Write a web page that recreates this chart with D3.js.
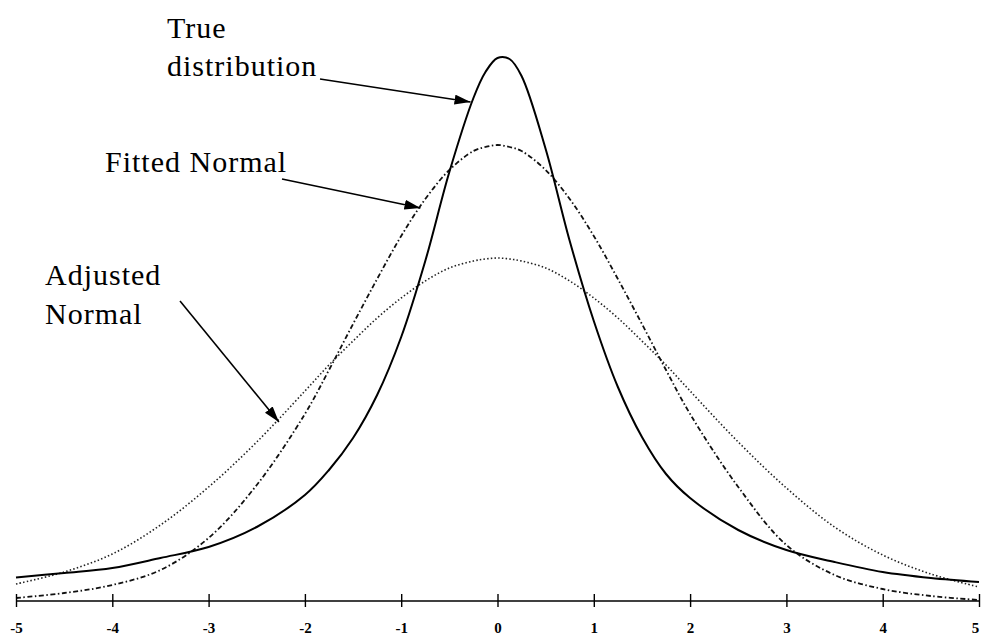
<!DOCTYPE html>
<html>
<head>
<meta charset="utf-8">
<script src="https://cdn.jsdelivr.net/npm/d3@7/dist/d3.min.js"></script>
<style>
  html, body { margin: 0; padding: 0; background: #fff; }
  svg { display: block; }
</style>
</head>
<body>
<svg id="chart" width="981" height="639"></svg>
<script>
// ---- Data (densities in arbitrary units) ----
const xGrid = [-5, -4.5, -4, -3.5, -3, -2.5, -2, -1.75, -1.5, -1.25, -1, -0.75, -0.5, -0.25, -0.125,
               0, 0.125, 0.25, 0.5, 0.75, 1, 1.25, 1.5, 1.75, 2, 2.5, 3, 3.5, 4, 4.5, 5];

const trueDist = [0.0235, 0.028, 0.033, 0.043, 0.054, 0.074, 0.106, 0.131, 0.163, 0.206, 0.264, 0.340, 0.429, 0.503, 0.529,
                  0.543, 0.542, 0.525, 0.452, 0.360, 0.280, 0.214, 0.164, 0.127, 0.103, 0.071, 0.051, 0.039, 0.029, 0.023, 0.019];

const fittedNormal = [0.003, 0.008, 0.016, 0.031, 0.063, 0.116, 0.187, 0.231, 0.277, 0.322, 0.365, 0.402, 0.431, 0.450, 0.454,
                      0.456, 0.454, 0.450, 0.431, 0.402, 0.365, 0.322, 0.277, 0.231, 0.187, 0.114, 0.056, 0.026, 0.012, 0.005, 0.001];

const adjustedNormal = [0.017, 0.029, 0.047, 0.076, 0.114, 0.159, 0.210, 0.236, 0.260, 0.283, 0.303, 0.320, 0.333, 0.340, 0.342,
                        0.343, 0.342, 0.340, 0.333, 0.320, 0.303, 0.283, 0.260, 0.236, 0.210, 0.159, 0.113, 0.074, 0.046, 0.027, 0.014];

const tickValues = [-5, -4, -3, -2, -1, 0, 1, 2, 3, 4, 5];
const tickLabels = ["-5", "-4", "-3", "-2", "-1", "0", "1", "2", "3", "4", "5"];

const annotationLines = [["True", "distribution"], ["Fitted Normal"], ["Adjusted", "Normal"]];
const annotationTargets = [[-0.28, 0.499], [-0.8, 0.393], [-2.27, 0.179]];

// ---- Layout ----
const svg = d3.select("#chart");
const x = d3.scaleLinear().domain([-5, 5]).range([16, 979]);
const y = d3.scaleLinear().domain([0, 0.56]).range([601, 41]);

const line = d3.line()
  .x((d, i) => x(xGrid[i]))
  .y(d => y(d))
  .curve(d3.curveCatmullRom.alpha(0.5));

// curves
svg.append("path").datum(adjustedNormal)
  .attr("d", line).attr("fill", "none")
  .attr("stroke", "#222").attr("stroke-width", 1.6)
  .attr("stroke-dasharray", "1.5,2.2");

svg.append("path").datum(fittedNormal)
  .attr("d", line).attr("fill", "none")
  .attr("stroke", "#111").attr("stroke-width", 1.8)
  .attr("stroke-dasharray", "5,2.5,1.5,2.5");

svg.append("path").datum(trueDist)
  .attr("d", line).attr("fill", "none")
  .attr("stroke", "#000").attr("stroke-width", 2);

// axis
const axisG = svg.append("g").attr("transform", `translate(0,${y(0)})`);
const axis = d3.axisBottom(x).tickValues(tickValues).tickSize(0).tickFormat((d, i) => tickLabels[i]);
axisG.call(axis);
axisG.select(".domain").attr("stroke", "#000").attr("stroke-width", 1.6).attr("d", `M${x(-5)},0H${x(5)}`);
axisG.selectAll(".tick line").remove();
axisG.selectAll(".tick").append("line")
  .attr("y1", -7).attr("y2", 6).attr("stroke", "#000").attr("stroke-width", 1.4);
axisG.selectAll(".tick text")
  .attr("y", 32).attr("dy", 0)
  .attr("dx", (d, i) => i === tickValues.length - 1 ? -4 : 0)
  .attr("font-family", "'Liberation Serif', 'Times New Roman', serif")
  .attr("font-weight", "bold")
  .attr("font-size", 15)
  .attr("fill", "#000");

// arrow marker
svg.append("defs").append("marker")
  .attr("id", "arrow").attr("viewBox", "0 0 16 10")
  .attr("refX", 16).attr("refY", 5)
  .attr("markerWidth", 16).attr("markerHeight", 10)
  .attr("markerUnits", "userSpaceOnUse")
  .attr("orient", "auto")
  .append("path").attr("d", "M0,0L16,5L0,10Z").attr("fill", "#000");

// annotations
const font = "'Liberation Serif', 'Times New Roman', serif";
const textPos = [
  { x: 167, ys: [38, 76], from: [320, 79] },
  { x: 105, ys: [172], from: [282, 179] },
  { x: 45, ys: [285, 324], from: [180, 301] }
];
annotationLines.forEach((lines, k) => {
  const p = textPos[k];
  lines.forEach((t, j) => {
    svg.append("text").attr("x", p.x).attr("y", p.ys[j])
      .attr("font-family", font).attr("font-size", 30)
      .attr("letter-spacing", 1)
      .attr("fill", "#000").text(t);
  });
  svg.append("line")
    .attr("x1", p.from[0]).attr("y1", p.from[1])
    .attr("x2", x(annotationTargets[k][0])).attr("y2", y(annotationTargets[k][1]))
    .attr("stroke", "#000").attr("stroke-width", 1.6)
    .attr("marker-end", "url(#arrow)");
});
</script>
</body>
</html>
